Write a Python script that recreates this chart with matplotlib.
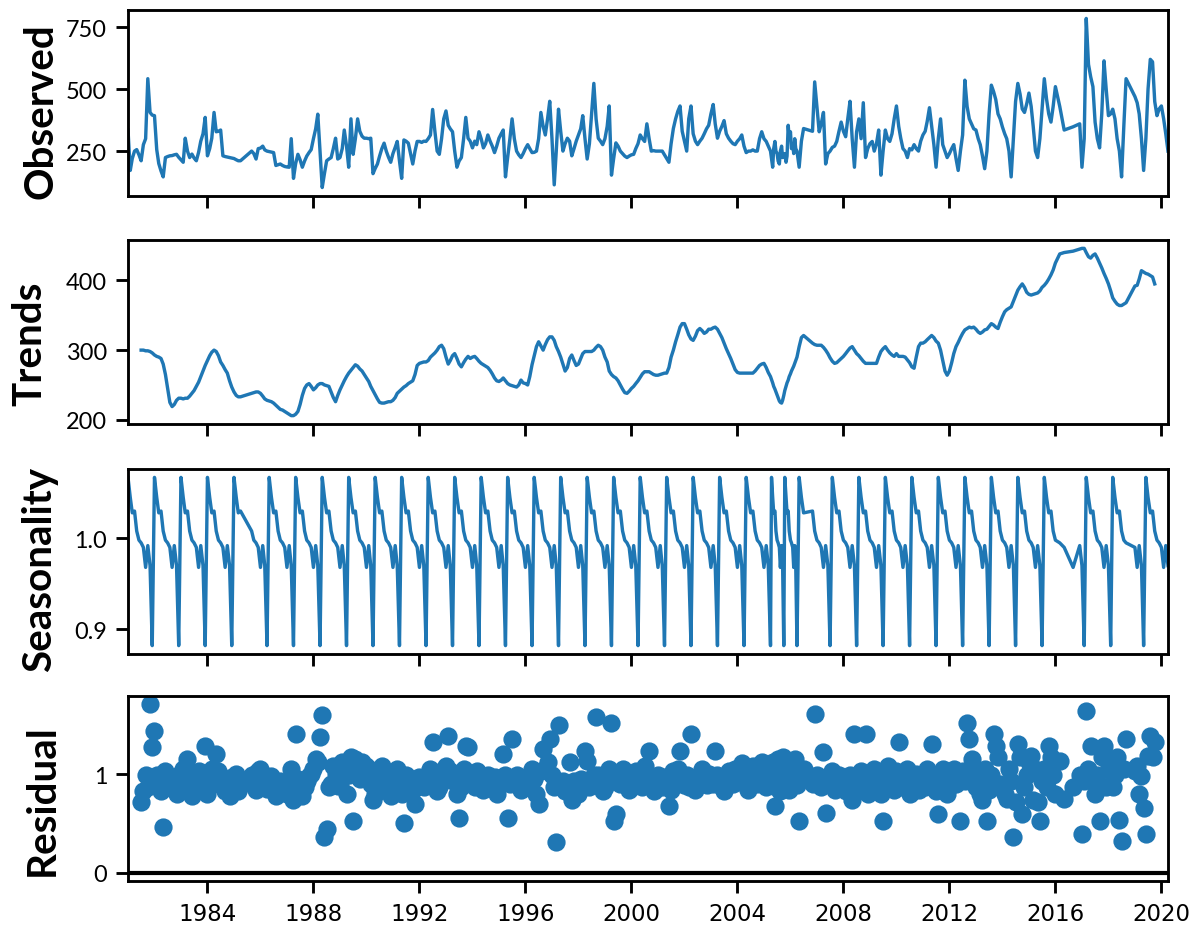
import numpy as np
import pandas as pd
import matplotlib
matplotlib.use("Agg")
import matplotlib.pyplot as plt
import matplotlib.dates as mdates


def months(start, end):
    return list(pd.date_range(start, end, freq="MS"))


# observation dates: monthly record with a few gaps and one semi-monthly stretch
dates = (months("1981-01", "1985-04") + months("1985-09", "2005-04")
         + list(pd.date_range("2005-04-15", periods=24, freq="SMS"))
         + months("2006-05", "2006-07") + months("2006-11", "2015-07")
         + months("2015-08", "2016-01")
         + [pd.Timestamp(d) for d in ("2016-03-01", "2016-05-01", "2016-09-01",
                                      "2016-12-01", "2017-01-01", "2017-02-01")]
         + months("2017-03", "2018-02")
         + months("2018-03", "2018-09") + months("2019-01", "2019-05")
         + months("2019-06", "2020-04"))

observed = [
    335, 172, 220, 250, 256, 235, 211, 276, 300, 542, 406, 395,   # 1981
    393, 256, 200, 170, 146, 224, 228, 231, 232, 235, 237, 225,
    215, 205, 302, 250, 224, 238, 222, 211, 245, 290, 320, 386,
    231, 260, 302, 406, 328, 330, 335, 231, 228, 226, 224, 222,
    220, 215, 211, 211, 250, 240, 218, 260,                       # 1985
    262, 270, 255, 250, 248, 246, 244, 192, 195, 198, 192, 188,
    186, 185, 300, 140, 200, 237, 215, 185, 210, 230, 244, 256,
    300, 340, 399, 250, 103, 160, 211, 218, 224, 260, 302, 218,
    224, 260, 335, 270, 185, 380, 237, 300, 380, 330, 310, 302,
    302, 300, 302, 159, 180, 198, 230, 260, 282, 250, 225, 205,   # 1990
    240, 265, 289, 210, 140, 295, 290, 282, 240, 198, 250, 289,
    289, 285, 290, 289, 300, 315, 418, 330, 250, 237, 300, 380,
    412, 354, 340, 328, 250, 185, 210, 224, 300, 386, 302, 290,
    263, 290, 276, 328, 300, 263, 280, 315, 290, 270, 244, 270,
    302, 320, 335, 146, 224, 300, 380, 300, 250, 235, 224, 240,   # 1995
    260, 276, 260, 244, 245, 250, 300, 406, 350, 315, 380, 451,
    300, 114, 250, 419, 330, 250, 280, 302, 290, 231, 260, 290,
    315, 340, 393, 300, 218, 280, 400, 523, 380, 302, 290, 276,
    300, 350, 432, 153, 220, 283, 270, 250, 240, 230, 224, 230,
    235, 237, 260, 280, 315, 300, 289, 360, 300, 250, 252, 250,   # 2000
    250, 250, 250, 235, 220, 205, 280, 341, 380, 410, 432, 330,
    290, 250, 380, 432, 320, 290, 276, 290, 302, 320, 340, 354,
    400, 438, 360, 302, 330, 350, 373, 320, 302, 290, 280, 276,
    290, 300, 315, 270, 244, 250, 250, 255, 250, 250, 300, 328,
    300, 289, 270, 250,                                           # 2005
    220, 185, 260, 289, 250, 240, 210, 198, 250, 270, 224, 230,
    240, 205, 230, 354, 300, 328, 260, 280, 240, 300, 260, 250,
    185, 290, 341, 330, 529,                                      # 2006
    430, 328, 360, 406, 198, 240, 250, 265, 270, 289, 330, 367,
    330, 308, 380, 451, 300, 185, 328, 380, 300, 445, 224, 260,
    280, 289, 250, 280, 335, 153, 250, 335, 300, 289, 320, 380,
    432, 350, 302, 260, 250, 224, 260, 255, 276, 260, 250, 290,   # 2010
    315, 330, 370, 425, 350, 276, 185, 300, 380, 276, 250, 224,
    240, 260, 276, 220, 172, 250, 315, 536, 430, 380, 360, 340,
    335, 300, 276, 230, 179, 250, 400, 516, 490, 458, 400, 380,
    347, 320, 300, 250, 146, 300, 450, 523, 480, 420, 406, 440,
    484, 430, 350, 250, 224, 300, 420,                            # 2015
    542, 460, 400, 367, 430, 510, 430, 335, 348, 360, 185, 300,
    785, 600, 550, 510, 367, 300, 263, 400, 614, 500, 393, 400,   # 2017
    419, 380, 300, 250, 146, 350, 542, 470, 445, 400, 300, 172,
    300, 500, 620, 610, 450, 393, 420, 432, 380, 320, 250,
]

trend = [
    None, None, None, None, None, None, 300, 300, 299, 299, 298, 296,
    293, 291, 290, 288, 280, 265, 245, 225, 219, 222, 228, 231,
    231, 230, 231, 231, 234, 238, 242, 248, 254, 262, 270, 278,
    285, 292, 297, 300, 298, 292, 283, 278, 272, 267, 256, 247,
    240, 235, 233, 233, 238, 239, 240, 240,
    238, 234, 230, 228, 227, 226, 224, 221, 218, 215, 214, 212,
    210, 208, 206, 206, 208, 212, 222, 235, 245, 250, 252, 248,
    243, 246, 250, 252, 252, 250, 249, 248, 240, 232, 226, 235,
    243, 250, 256, 262, 267, 271, 275, 279, 277, 273, 270, 265,
    260, 255, 248, 242, 236, 230, 225, 224, 224, 225, 226, 226,
    228, 232, 238, 241, 244, 247, 249, 252, 254, 256, 265, 278,
    281, 282, 283, 283, 285, 290, 293, 296, 300, 305, 307, 302,
    290, 280, 285, 292, 295, 288, 280, 276, 282, 287, 291, 288,
    290, 291, 288, 284, 281, 279, 277, 275, 271, 266, 260, 256,
    255, 257, 260, 256, 252, 250, 249, 248, 247, 250, 257, 253,
    252, 250, 262, 279, 292, 305, 312, 306, 300, 308, 315, 319,
    319, 314, 305, 298, 290, 280, 270, 275, 288, 293, 285, 278,
    280, 288, 295, 298, 298, 298, 298, 300, 304, 307, 305, 300,
    290, 283, 270, 265, 262, 260, 256, 250, 244, 239, 238, 241,
    245, 248, 252, 256, 261, 266, 269, 269, 269, 267, 265, 264,
    264, 265, 266, 267, 267, 275, 290, 300, 312, 322, 333, 338,
    338, 330, 322, 316, 314, 320, 328, 331, 328, 324, 326, 330,
    330, 332, 333, 330, 324, 318, 310, 302, 295, 288, 280, 272,
    268, 267, 267, 267, 267, 267, 267, 267, 270, 274, 278, 280,
    281, 275, 268, 262,
    258, 253, 248, 244, 240, 235, 231, 227, 225, 224, 228, 235,
    242, 248, 253, 257, 262, 266, 270, 274, 277, 281, 285, 290,
    305, 318, 321, 310, 308,
    307, 307, 307, 304, 300, 295, 289, 284, 281, 282, 285, 288,
    291, 295, 299, 303, 305, 300, 295, 292, 288, 284, 281, 281,
    281, 281, 281, 281, 290, 298, 302, 305, 300, 296, 293, 291,
    295, 291, 291, 291, 290, 286, 282, 276, 274, 290, 305, 310,
    310, 312, 315, 318, 321, 318, 313, 310, 300, 285, 270, 264,
    270, 282, 295, 305, 311, 318, 324, 329, 331, 333, 332, 333,
    330, 326, 324, 326, 329, 330, 334, 338, 336, 333, 331, 340,
    348, 355, 358, 360, 362, 370, 378, 386, 391, 395, 390, 383,
    380, 379, 380, 381, 382, 385, 390,
    393, 397, 402, 408, 415, 425, 438, 440, 442, 445, 446, 446,
    440, 434, 432, 436, 438, 432, 425, 418, 410, 403, 395, 385,
    375, 370, 366, 364, 364, 366, 368, 392, 393, 402, 414, 412,
    410, 409, 407, 405, 395, None, None, None, None, None, None,
]

# one seasonal cycle (12 observations), repeated through the record
season_cycle = [1.067, 1.045, 1.028, 1.030, 1.008, 0.998,
                0.995, 0.990, 0.968, 0.992, 0.970, 0.882]

resid = [
    None, None, None, None, None, None, 0.72, 0.83, 0.99, 0.87, 1.71, 1.28,
    1.44, 0.99, 0.90, 0.83, 0.46, 1.03, 0.87, 0.93, 0.95, 0.89, 0.80, 0.99,
    0.84, 1.05, 0.87, 1.15, 0.90, 0.78, 0.95, 0.87, 1.03, 0.89, 0.99, 1.29,
    0.80, 0.95, 1.05, 0.99, 1.21, 1.03, 0.89, 0.93, 0.83, 0.87, 0.78, 0.97,
    0.90, 1.00, 0.83, 0.89, 0.99, 0.92, 0.84, 1.03,
    1.05, 0.99, 0.90, 0.85, 0.95, 0.98, 0.88, 0.78, 0.87, 0.93, 0.84, 0.89,
    0.80, 0.87, 1.05, 0.74, 1.41, 0.95, 0.83, 0.78, 0.87, 0.93, 0.98, 1.00,
    1.05, 1.15, 1.12, 1.38, 1.60, 0.36, 0.44, 0.87, 0.90, 1.08, 1.00, 0.88,
    0.90, 1.12, 1.08, 0.80, 0.99, 1.18, 0.52, 1.15, 1.05, 0.95, 1.12, 1.03,
    1.08, 1.05, 0.90, 0.74, 0.80, 0.87, 0.95, 1.08, 1.03, 0.97, 0.93, 0.78,
    0.99, 1.03, 1.05, 0.89, 0.80, 0.50, 0.99, 0.93, 0.87, 0.84, 0.70, 0.95,
    0.97, 0.90, 0.87, 0.95, 0.93, 1.05, 1.33, 0.99, 0.83, 0.87, 0.93, 1.05,
    1.08, 1.39, 1.03, 0.93, 0.99, 0.80, 0.56, 0.87, 1.05, 1.29, 1.28, 0.99,
    0.99, 0.87, 1.03, 0.95, 0.89, 0.84, 0.93, 0.99, 0.90, 0.87, 0.97, 0.80,
    0.90, 0.95, 1.21, 0.99, 0.56, 0.90, 1.36, 0.93, 0.99, 0.88, 0.84, 0.95,
    0.89, 0.87, 0.99, 1.05, 0.95, 0.80, 0.70, 1.03, 1.26, 1.05, 1.12, 1.36,
    0.99, 0.87, 0.31, 1.50, 0.90, 0.93, 0.83, 0.88, 1.12, 0.74, 0.93, 0.87,
    0.80, 0.95, 0.90, 1.24, 1.13, 0.87, 0.93, 0.99, 1.58, 0.99, 0.90, 0.83,
    0.87, 0.99, 1.05, 1.52, 0.52, 0.60, 0.99, 0.90, 1.05, 0.95, 0.88, 0.84,
    0.93, 0.99, 1.03, 0.95, 0.90, 0.87, 1.08, 1.00, 1.24, 0.93, 0.83, 0.89,
    0.99, 0.93, 0.87, 0.97, 0.90, 0.68, 0.84, 1.03, 0.99, 1.05, 1.24, 0.95,
    0.89, 0.99, 0.87, 1.41, 0.95, 0.84, 0.90, 0.99, 1.05, 0.93, 0.89, 1.00,
    0.95, 0.90, 1.24, 0.99, 0.93, 0.87, 0.83, 0.95, 1.03, 0.99, 0.90, 1.05,
    0.97, 0.93, 1.11, 1.00, 0.89, 0.84, 0.93, 1.08, 0.99, 0.90, 1.05, 1.12,
    1.03, 0.87, 1.08, 0.99,
    1.05, 1.12, 0.95, 0.68, 0.87, 0.99, 1.15, 1.08, 0.83, 1.03, 1.18, 0.93,
    0.87, 1.05, 1.12, 0.99, 0.84, 0.95, 1.08, 1.03, 0.90, 1.15, 1.00, 0.89,
    0.52, 0.99, 1.05, 0.90, 1.61,
    0.99, 0.93, 0.87, 1.23, 0.61, 0.95, 0.89, 1.03, 0.84, 0.93, 0.99, 0.88,
    0.95, 0.83, 0.90, 0.99, 0.74, 1.41, 0.93, 0.84, 1.03, 0.95, 1.41, 0.80,
    0.99, 0.90, 1.05, 0.93, 0.87, 0.80, 0.52, 0.99, 1.08, 0.90, 0.95, 0.84,
    1.03, 1.33, 0.93, 0.87, 0.99, 1.05, 0.80, 0.90, 0.97, 1.00, 0.84, 0.93,
    0.99, 0.87, 1.05, 0.95, 1.31, 0.90, 0.83, 0.60, 0.99, 1.05, 0.93, 0.80,
    0.87, 0.99, 1.05, 0.90, 0.95, 0.52, 1.03, 0.93, 1.52, 1.36, 1.16, 0.99,
    0.87, 0.93, 0.80, 0.74, 1.05, 0.52, 0.84, 0.99, 1.41, 1.29, 1.18, 0.90,
    0.87, 0.80, 0.75, 1.05, 0.93, 0.36, 0.72, 1.31, 1.18, 0.60, 0.87, 0.99,
    1.12, 1.19, 0.74, 1.05, 0.72, 0.52, 0.93,
    1.05, 0.87, 1.29, 1.18, 0.99, 0.80, 1.13, 0.75, 0.87, 0.99, 0.39, 0.93,
    1.64, 1.05, 1.29, 0.93, 0.80, 0.99, 0.52, 1.18, 1.29, 0.87, 1.12, 1.03,
    0.87, 0.99, 1.18, 0.53, 0.32, 1.05, 1.36, 1.03, 1.08, 0.80, 0.98, 0.66,
    0.39, 1.19, 1.39, 1.18, 1.33, None, None, None, None, None, None,
]

dates = pd.DatetimeIndex(dates)
observed = np.array(observed, dtype=float)
trend = np.array(trend, dtype=float)
resid = np.array(resid, dtype=float)
seasonal = np.resize(np.array(season_cycle), len(dates))
assert len(observed) == len(trend) == len(resid) == len(dates)

W, H = 1202, 932
fig = plt.figure(figsize=(W / 187.5, H / 187.5), dpi=187.5)

# (top, bottom) of each panel in pixels
panels = [(11, 197), (241, 425), (470, 655), (697, 882)]
left, right = 128, 1168
axes = []
for top, bot in panels:
    ax = fig.add_axes([left / W, 1 - bot / H, (right - left) / W, (bot - top) / H],
                      sharex=axes[0] if axes else None)
    axes.append(ax)
ax_obs, ax_tr, ax_se, ax_re = axes

c = "#1f77b4"
ax_obs.plot(dates, observed, color=c, lw=1.3)
ax_tr.plot(dates, trend, color=c, lw=1.3)
ax_se.plot(dates, seasonal, color=c, lw=1.3)
ax_re.plot(dates, resid, marker="o", linestyle="none", color=c, ms=6)
ax_re.plot([dates[0], dates[-1]], [0, 0], color="#000000", lw=1.6, zorder=-3)

ax_obs.set_yticks([250, 500, 750])
ax_tr.set_yticks([200, 300, 400])
ax_se.set_yticks([0.9, 1.0])
ax_re.set_yticks([0, 1])

labels = ["Observed", "Trends", "Seasonality", "Residual"]
label_xy = [(-0.066, 0.46), (-0.077, 0.44), (-0.067, 0.46), (-0.065, 0.44)]
for ax, name, (lx, ly) in zip(axes, labels, label_xy):
    ax.set_xlim(dates[0], dates[-1])
    ax.set_ylabel(name, fontsize=15.5, fontweight="bold", family="Lato")
    ax.yaxis.set_label_coords(lx, ly)
    for s in ax.spines.values():
        s.set_linewidth(1.1)
    ax.tick_params(width=1.1, length=4.5)
    ax.tick_params(axis="y", labelsize=9, labelfontfamily="Lato")
    ax.tick_params(axis="x", labelsize=8.8)
    if ax is not ax_re:
        ax.tick_params(labelbottom=False)

ax_re.xaxis.set_major_locator(mdates.YearLocator(4))
ax_re.xaxis.set_major_formatter(mdates.DateFormatter("%Y"))

fig.savefig("out.png", dpi=187.5)
